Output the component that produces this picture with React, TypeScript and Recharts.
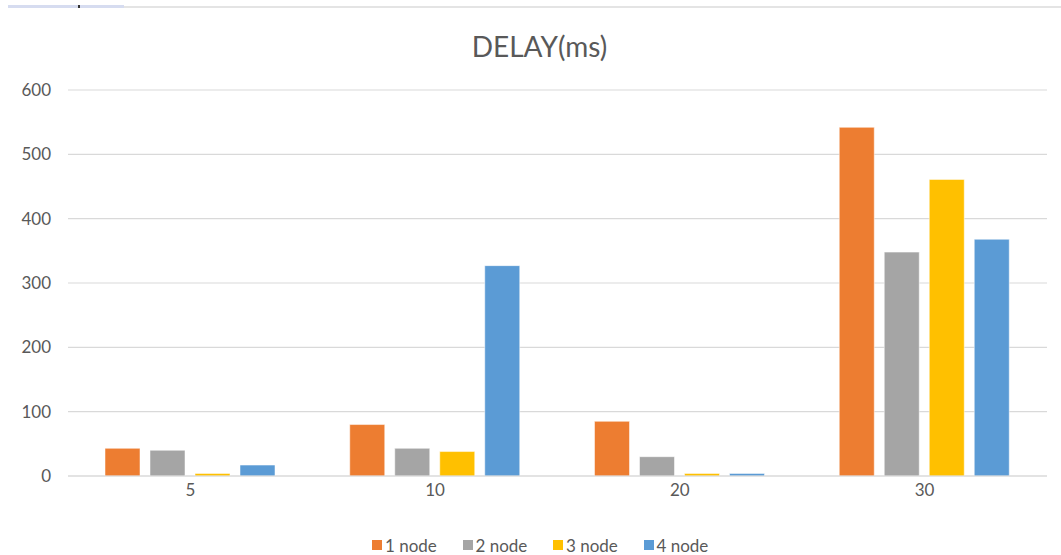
import { BarChart, Bar, XAxis, YAxis, CartesianGrid, Legend } from "recharts";

// nodes count on the x axis
const categories = ["5", "10", "20", "30"];
const node1 = [43, 80, 85, 542];
const node2 = [40, 43, 30, 348];
const node3 = [4, 38, 4, 461];
const node4 = [17, 327, 4, 368];
const yTicks = [0, 100, 200, 300, 400, 500, 600];

const series = [
    { key: "n1", name: "1 node", color: "#ED7D31" },
    { key: "n2", name: "2 node", color: "#A5A5A5" },
    { key: "n3", name: "3 node", color: "#FFC000" },
    { key: "n4", name: "4 node", color: "#5B9BD5" },
];

const data = categories.map((c, i) => ({
    cat: c,
    n1: node1[i],
    n2: node2[i],
    n3: node3[i],
    n4: node4[i],
}));

const FONT = "Lato, 'Noto Sans', sans-serif";
const TEXT = "#595959";

function LegendBox() {
    return (
        <div style={{ display: "flex", justifyContent: "flex-start", paddingLeft: 372, height: 20, alignItems: "center", fontFamily: FONT, fontSize: 17, color: TEXT }}>
            {series.map(s => (
                <div key={s.key} style={{ display: "flex", alignItems: "center", width: 90.5 }}>
                    <span style={{ display: "inline-block", width: 10, height: 10, background: s.color, marginRight: 3 }} />
                    <span>{s.name}</span>
                </div>
            ))}
        </div>
    );
}

export default function App() {
    return (
        <div style={{ position: "relative", width: 1061, height: 555, background: "#fff", fontFamily: FONT }}>
            <style>{`body{margin:0}`}</style>
            {/* spreadsheet strip at the top */}
            <div style={{ position: "absolute", left: 8, top: 6, width: 1053, height: 2, background: "#e4e4e4" }} />
            <div style={{ position: "absolute", left: 8, top: 5, width: 116, height: 3, background: "#d6dcf0" }} />
            <div style={{ position: "absolute", left: 78, top: 5, width: 2, height: 3, background: "#333" }} />
            <div style={{ position: "absolute", left: 0, top: 29, width: 1079, textAlign: "center", fontSize: 28, lineHeight: "34px", color: TEXT }}>
                DELAY(ms)
            </div>
            <BarChart
                width={1061}
                height={555}
                data={data}
                margin={{ top: 90, right: 14, left: 0, bottom: 0 }}
                barSize={35}
                barGap={10}
            >
                <CartesianGrid vertical={false} stroke="#d9d9d9" strokeWidth={1.2} />
                <XAxis
                    dataKey="cat"
                    height={59}
                    axisLine={{ stroke: "#d9d9d9", strokeWidth: 1.2 }}
                    tickLine={false}
                    tickSize={0}
                    tickMargin={8}
                    tick={{ fill: TEXT, fontSize: 17, fontFamily: FONT }}
                />
                <YAxis
                    width={68}
                    domain={[0, 600]}
                    ticks={yTicks}
                    axisLine={false}
                    tickLine={false}
                    tickSize={0}
                    tickMargin={17}
                    tick={{ fill: TEXT, fontSize: 17, fontFamily: FONT }}
                />
                <Legend verticalAlign="bottom" height={20} content={<LegendBox />} />
                {series.map(s => (
                    <Bar key={s.key} dataKey={s.key} name={s.name} fill={s.color} stroke="#ffffff" strokeOpacity={0.5} isAnimationActive={false} />
                ))}
            </BarChart>
        </div>
    );
}
